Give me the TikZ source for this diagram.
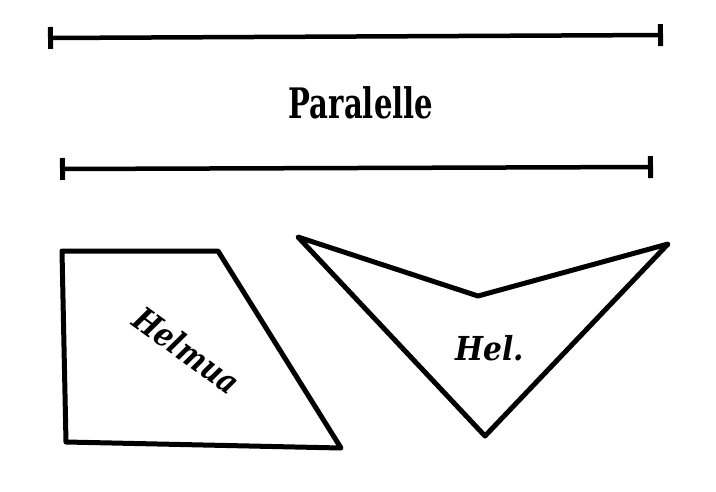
\documentclass[tikz,border=0pt]{standalone}
\usepackage{fontspec}
\setmainfont{DejaVu Serif Condensed}
\usepackage{tikz}
\usetikzlibrary{arrows.meta, positioning}
\tikzstyle{rule}=[line width=4.5pt, {Bar[width=22pt,line width=5pt]}-{Bar[width=22pt,line width=5pt]}]
\tikzstyle{figure}=[line width=5pt, line join=round]
\tikzstyle{every node}=[font=\bfseries\fontsize{42}{42}\selectfont, inner sep=0pt]
\tikzstyle{slanted}=[font=\bfseries\itshape\fontsize{33}{33}\selectfont]

\begin{document}
\begin{tikzpicture}[x=1pt,y=-1pt]
  \fill[white] (0,0) rectangle (716,491);
  \useasboundingbox (0,0) rectangle (716,491);
  % the two parallel lines
  \coordinate (a1) at (48,38);
  \coordinate (a2) at (663,35);
  \coordinate (b1) at (60,169);
  \coordinate (b2) at (653,167);
  \draw[rule] (a1) -- (a2);
  \draw[rule] (b1) -- (b2);
  \node[xscale=0.77] (paralelle) at (361,103) {Paralelle};
  % four sided figure
  \coordinate (q1) at (62,251);
  \coordinate (q2) at (218,251);
  \coordinate (q3) at (341,448);
  \coordinate (q4) at (66,442);
  \draw[figure] (q1) -- (q2) -- (q3) -- (q4) -- cycle;
  \node[slanted, rotate=-36, xscale=0.93] (helmua) at (187,350) {Helmua};
  % the notched figure
  \coordinate (h1) at (298,237);
  \coordinate (h2) at (478,296);
  \coordinate (h3) at (668,244);
  \coordinate (h4) at (485,436);
  \draw[figure] (h1) -- (h2) -- (h3) -- (h4) -- cycle;
  \node[slanted] (hel) at (490,348) {Hel.};
\end{tikzpicture}
\end{document}
